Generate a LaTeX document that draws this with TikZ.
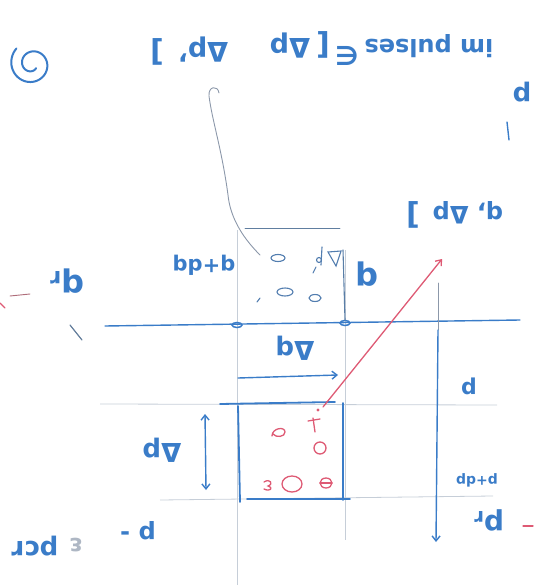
\documentclass[tikz,border=0pt]{standalone}
\usepackage{fontspec}
\setmainfont{DejaVu Sans}
\usetikzlibrary{arrows.meta}
\definecolor{inkBlue}{HTML}{3A7CC8}
\definecolor{inkRed}{HTML}{DE5A74}
\definecolor{gridGray}{HTML}{C6CED8}
\definecolor{pencilGray}{HTML}{8C98AA}
\tikzset{
  sketchfig/.style={x=1pt, y=-1pt, >={Straight Barb[length=5pt, width=8pt]}},
  ink/.style={draw=inkBlue, line width=1.8pt, line cap=round},
  thinink/.style={draw=inkBlue, line width=1.4pt, line cap=round},
  redink/.style={draw=inkRed, line width=1.3pt, line cap=round},
  gridline/.style={draw=gridGray, line width=0.8pt},
  pencil/.style={draw=pencilGray, line width=0.9pt, line cap=round},
  particle/.style={draw=inkBlue!65!gray, line width=1.1pt, line cap=round},
  redparticle/.style={draw=inkRed, line width=1.3pt, line cap=round},
  % handwriting is upside down on the scan
  handlabel/.style={text=inkBlue, rotate=180, inner sep=0pt, font=\fontsize{#1}{#1}\selectfont\bfseries},
  handlabel/.default=24pt,
}
\begin{document}
\begin{tikzpicture}[sketchfig]
  \useasboundingbox (0,0) rectangle (534,585);
  \clip (0,0) rectangle (534,585);

  % faint grid of the phase plane
  \draw[gridline] (100,404) -- (497,405);
  \draw[gridline] (160,500) -- (493,496);
  \draw[gridline] (237,230) -- (237,585);
  \draw[gridline] (345,250) -- (345,540);

  % q axis and the corners of the cell
  \coordinate (qleft) at (105,326);
  \coordinate (qright) at (520,320);
  \draw[thinink] (qleft) -- (qright);
  \coordinate (cornerA) at (237,325);
  \coordinate (cornerB) at (345,323);
  \draw[ink, line width=1.5pt] (cornerA) ellipse [x radius=5pt, y radius=2.5pt];
  \draw[ink, line width=1.5pt] (cornerB) ellipse [x radius=5pt, y radius=2.5pt];

  % upper cell
  \draw[pencil, draw=inkBlue!45!gray] (245,228) -- (340,228);
  \draw[pencil, draw=inkBlue!55!gray, line width=1.1pt] (343,250) -- (345,320);
  \draw[particle] (278,258) ellipse [x radius=7pt, y radius=3.5pt];
  \draw[particle] (285,292) ellipse [x radius=8pt, y radius=4pt];
  \draw[particle] (315,298) ellipse [x radius=6pt, y radius=3.5pt];
  \draw[particle] (257,302) -- (260,298);
  \draw[particle] (313,273) -- (316,267);
  \draw[particle] (328,252) -- (341,251) -- (336,266) -- cycle;
  \draw[particle] (322,247) -- (321,265);
  \draw[particle] (319,260) circle [radius=2.5pt];

  % lower cell
  \coordinate (cellNW) at (238,406);
  \coordinate (cellSW) at (240,502);
  \coordinate (cellSE) at (350,499);
  \coordinate (cellNE) at (343,403);
  \draw[ink] (220,404) -- (335,402);
  \draw[ink] (cellNW) -- (cellSW);
  \draw[ink] (247,499) -- (cellSE);
  \draw[ink] (cellNE) -- (343,500);
  \draw[redparticle] (272,436) .. controls (272,428) and (285,426) .. (285,432) .. controls (285,437) and (276,438) .. (273,434);
  \draw[redparticle] (313,418) -- (315,432);
  \draw[redparticle] (308,421) -- (320,419);
  \draw[redparticle] (318,410) circle [radius=0.8pt];
  \draw[redparticle] (320,448) ellipse [x radius=6pt, y radius=6pt];
  \draw[redparticle] (264,482) .. controls (270,478) and (274,484) .. (268,486) .. controls (274,488) and (270,492) .. (264,489);
  \draw[redparticle] (292,484) ellipse [x radius=10pt, y radius=8pt];
  \draw[redparticle] (326,483) ellipse [x radius=6pt, y radius=5pt];
  \draw[redparticle] (320,483) -- (332,483);

  % widths of the cell
  \coordinate (dqtail) at (238,378);
  \coordinate (dqtip) at (338,375);
  \draw[thinink, ->] (dqtail) -- (dqtip);
  \coordinate (dptop) at (205,414);
  \coordinate (dpbot) at (206,490);
  \draw[thinink, <->] (dptop) -- (dpbot);

  % p axis
  \coordinate (ptop) at (438,283);
  \coordinate (pmid) at (438,330);
  \coordinate (ptip) at (436,542);
  \draw[pencil] (ptop) -- (pmid);
  \draw[thinink, ->] (pmid) -- (ptip);

  % a particle leaving the cell
  \coordinate (kickfrom) at (323,407);
  \coordinate (kickto) at (442,259);
  \draw[redink, ->] (kickfrom) .. controls (365,355) and (405,305) .. (kickto);

  % pointer to the impulse range
  \coordinate (hookfoot) at (260,255);
  \coordinate (hooktop) at (219,93);
  \draw[pencil] (hookfoot) .. controls (240,235) and (230,215) .. (228,195)
    .. controls (222,150) and (212,120) .. (209,96) .. controls (208,86) and (218,85) .. (hooktop);

  % loose strokes
  \draw[pencil, draw=inkBlue!40!gray, line width=1.2pt] (70,325) -- (82,340);
  \draw[pencil, draw=inkRed!50!gray] (10,296) -- (30,294);
  \draw[redink] (0,303) -- (5,308);
  \draw[redink] (523,526) -- (533,526);
  \draw[thinink] (507,122) -- (509,140);

  % circled mark
  \draw[thinink, line width=2pt] plot[domain=0:540, samples=80, smooth]
    ({32+(22-0.03*\x)*cos(225-\x)}, {64+(22-0.03*\x)*sin(225-\x)});

  % labels
  \node[handlabel=24pt] (impulses) at (429,46) {im pulses};
  \node[handlabel=26pt] (elem) at (347,56) {∈};
  \node[handlabel=30pt] (bropen) at (323,45) {[};
  \node[handlabel=27pt] (rangeA) at (290,46) {Δp};
  \node[handlabel=27pt] (rangeB) at (203,50) {Δp'};
  \node[handlabel=30pt] (brclose) at (157,52) {]};
  \node[handlabel=24pt] (kicklabel) at (468,213) {q, Δp};
  \node[handlabel=30pt] (kickbr) at (413,215) {]};
  \node[handlabel=26pt] (edgep) at (522,92) {p};
  \node[handlabel=21pt] (qdq) at (204,265) {q+dq};
  \node[handlabel=32pt] (qlabel) at (367,274) {q};
  \node[handlabel=26pt] (dqlabel) at (295,348) {Δq};
  \node[handlabel=26pt] (dplabel) at (162,450) {Δp};
  \node[handlabel=22pt] (plabel) at (469,386) {p};
  \node[handlabel=14pt] (pdp) at (477,480) {p+dp};
  \node[handlabel=28pt] (paxis) at (489,520) {p\textsubscript{r}};
  \node[handlabel=32pt] (qaxis) at (67,281) {q\textsubscript{r}};
  \node[handlabel=24pt] (momlabel) at (138,531) {p -};
  \node[handlabel=24pt, text=pencilGray!70] (epslabel) at (76,545) {ε};
  \node[handlabel=26pt] (pcrlabel) at (35,546) {pcr};
\end{tikzpicture}
\end{document}
